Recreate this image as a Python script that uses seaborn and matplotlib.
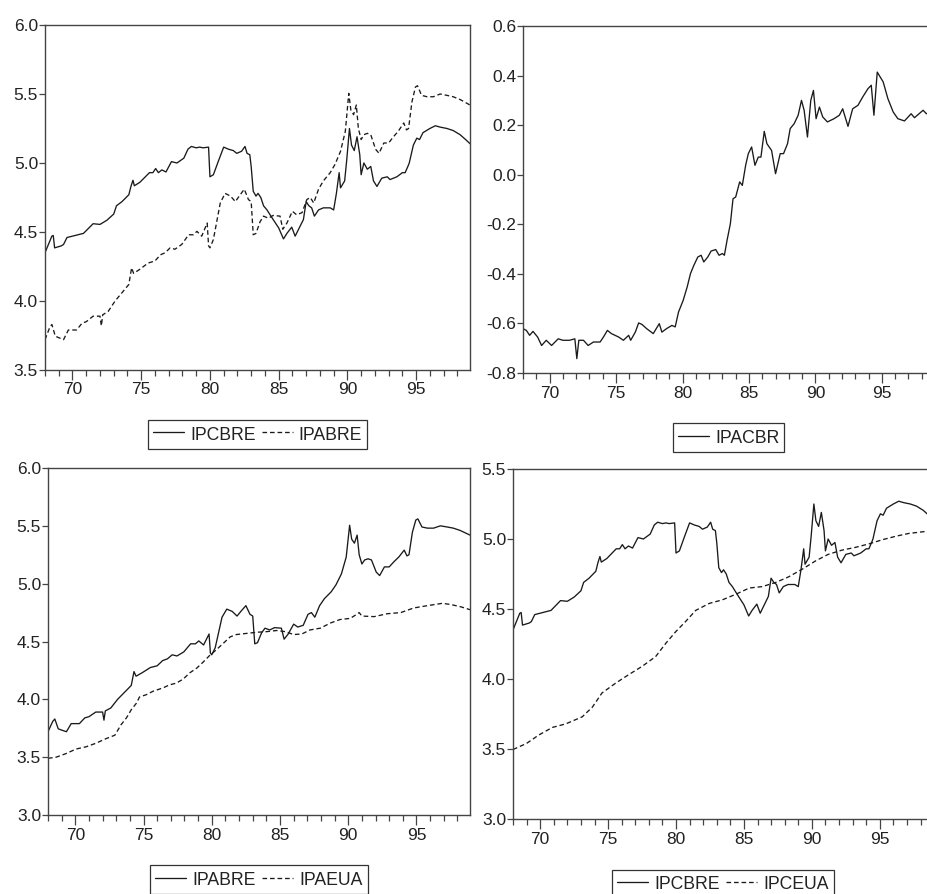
import matplotlib
matplotlib.use("Agg")
import matplotlib.pyplot as plt
import seaborn as sns
from matplotlib.ticker import FixedLocator, FormatStrFormatter

# ── DATA (2-digit years) ───
ipcbre_x = [68.0, 68.5, 68.6, 68.7, 69.2, 69.35, 69.6, 70.0, 70.8, 71.0, 71.3, 71.5, 72.0, 72.5,
            73.0, 73.2, 73.6, 74.1, 74.25, 74.4, 74.5, 74.9, 75.2, 75.6, 75.85, 76.05, 76.25, 76.5,
            76.8, 77.2, 77.6, 78.1, 78.4, 78.65, 79.0, 79.25, 79.5, 79.9, 80.0, 80.25, 80.6, 81.0,
            81.35, 81.7, 81.95, 82.3, 82.55, 82.7, 82.9, 83.0, 83.15, 83.35, 83.5, 83.7, 83.9, 84.15,
            84.6, 85.0, 85.35, 85.6, 85.95, 86.2, 86.55, 86.8, 87.0, 87.2, 87.4, 87.6, 87.9, 88.25,
            88.75, 89.0, 89.2, 89.4, 89.5, 89.8, 89.95, 90.15, 90.3, 90.5, 90.7, 90.9, 91.0, 91.2,
            91.45, 91.7, 91.9, 92.15, 92.5, 92.9, 93.1, 93.6, 94.0, 94.2, 94.4, 94.5, 94.8, 95.05,
            95.25, 95.5, 96.0, 96.4, 96.75, 97.25, 97.7, 98.2, 98.6, 98.92]
ipcbre_y = [4.35, 4.47, 4.475, 4.385, 4.40, 4.41, 4.46, 4.47, 4.49, 4.51, 4.54, 4.56, 4.555, 4.585,
            4.63, 4.69, 4.72, 4.77, 4.83, 4.875, 4.835, 4.86, 4.89, 4.93, 4.93, 4.96, 4.93, 4.95,
            4.935, 5.01, 5.00, 5.035, 5.10, 5.12, 5.11, 5.115, 5.11, 5.115, 4.90, 4.915, 5.01, 5.115,
            5.10, 5.09, 5.07, 5.085, 5.12, 5.07, 5.06, 4.975, 4.795, 4.76, 4.78, 4.75, 4.69, 4.66,
            4.59, 4.53, 4.45, 4.49, 4.535, 4.47, 4.54, 4.59, 4.72, 4.69, 4.675, 4.615, 4.66, 4.675,
            4.675, 4.66, 4.78, 4.93, 4.82, 4.87, 5.02, 5.25, 5.13, 5.09, 5.19, 5.06, 4.915, 5.00,
            4.955, 4.975, 4.87, 4.83, 4.89, 4.90, 4.88, 4.90, 4.93, 4.93, 4.975, 5.00, 5.13, 5.18,
            5.17, 5.22, 5.25, 5.27, 5.26, 5.25, 5.235, 5.205, 5.17, 5.14]

ipabre_x = [68.0, 68.35, 68.5, 68.75, 69.1, 69.35, 69.7, 70.3, 70.7, 71.0, 71.5, 72.0, 72.1, 72.2,
            72.6, 73.1, 73.6, 74.1, 74.3, 74.45, 74.9, 75.5, 76.0, 76.4, 76.75, 77.1, 77.45, 77.95,
            78.45, 78.8, 79.05, 79.4, 79.8, 79.9, 80.0, 80.25, 80.75, 81.1, 81.5, 81.85, 82.2, 82.5,
            82.8, 83.0, 83.15, 83.35, 83.65, 83.9, 84.25, 84.6, 85.1, 85.3, 85.6, 86.0, 86.3, 86.7,
            87.05, 87.3, 87.55, 87.9, 88.25, 88.75, 89.1, 89.5, 89.85, 90.1, 90.25, 90.45, 90.65,
            90.8, 91.0, 91.2, 91.45, 91.7, 92.05, 92.3, 92.65, 93.0, 93.35, 93.7, 94.1, 94.3, 94.45,
            94.7, 94.95, 95.1, 95.4, 95.8, 96.25, 96.75, 97.25, 97.7, 98.2, 98.92]
ipabre_y = [3.72, 3.81, 3.83, 3.745, 3.73, 3.72, 3.79, 3.79, 3.84, 3.85, 3.89, 3.89, 3.82, 3.90,
            3.925, 4.00, 4.06, 4.12, 4.24, 4.20, 4.23, 4.275, 4.29, 4.335, 4.35, 4.385, 4.375, 4.41,
            4.48, 4.48, 4.505, 4.47, 4.565, 4.40, 4.385, 4.445, 4.71, 4.78, 4.76, 4.72, 4.77, 4.81,
            4.735, 4.72, 4.48, 4.49, 4.575, 4.615, 4.60, 4.62, 4.615, 4.52, 4.565, 4.65, 4.625, 4.64,
            4.735, 4.75, 4.71, 4.81, 4.87, 4.93, 4.99, 5.085, 5.23, 5.505, 5.385, 5.35, 5.42,
            5.25, 5.17, 5.205, 5.215, 5.205, 5.10, 5.07, 5.145, 5.145, 5.19, 5.23, 5.29, 5.24, 5.25,
            5.445, 5.55, 5.56, 5.49, 5.48, 5.48, 5.50, 5.49, 5.48, 5.46, 5.42]

ipacbr_x = [68.0, 68.25, 68.5, 68.75, 69.1, 69.4, 69.75, 70.15, 70.65, 71.0, 71.5, 71.9, 72.05, 72.2,
            72.55, 72.9, 73.3, 73.8, 74.05, 74.35, 74.65, 75.2, 75.55, 75.95, 76.1, 76.45, 76.7,
            76.95, 77.3, 77.8, 78.25, 78.45, 78.8, 79.2, 79.45, 79.7, 80.05, 80.35, 80.6, 80.85,
            81.15, 81.4, 81.6, 81.9, 82.15, 82.5, 82.75, 83.0, 83.15, 83.35, 83.6, 83.8, 84.0, 84.3,
            84.5, 84.75, 84.95, 85.2, 85.45, 85.7, 85.9, 86.15, 86.35, 86.7, 87.0, 87.35, 87.6, 87.9,
            88.1, 88.4, 88.7, 88.95, 89.15, 89.4, 89.65, 89.85, 90.05, 90.3, 90.55, 90.9, 91.4, 91.8,
            92.05, 92.45, 92.8, 93.2, 93.55, 93.95, 94.2, 94.4, 94.65, 95.1, 95.45, 95.85, 96.2,
            96.7, 97.2, 97.45, 98.1, 98.35, 98.92]
ipacbr_y = [-0.621, -0.628, -0.648, -0.632, -0.655, -0.689, -0.668, -0.689, -0.662, -0.668, -0.668,
            -0.662, -0.742, -0.668, -0.668, -0.689, -0.675, -0.675, -0.655, -0.628, -0.641, -0.655,
            -0.668, -0.648, -0.668, -0.635, -0.598, -0.604, -0.621, -0.641, -0.601, -0.635, -0.621,
            -0.608, -0.614, -0.554, -0.507, -0.453, -0.399, -0.366, -0.332, -0.325, -0.352, -0.332,
            -0.308, -0.302, -0.325, -0.318, -0.325, -0.265, -0.198, -0.097, -0.090, -0.029, -0.043,
            0.038, 0.085, 0.112, 0.038, 0.071, 0.071, 0.175, 0.125, 0.098, 0.004, 0.085, 0.085,
            0.125, 0.186, 0.206, 0.240, 0.300, 0.260, 0.152, 0.300, 0.340, 0.226, 0.273, 0.233,
            0.213, 0.226, 0.240, 0.266, 0.195, 0.266, 0.280, 0.313, 0.347, 0.361, 0.240, 0.414,
            0.374, 0.307, 0.253, 0.226, 0.217, 0.246, 0.230, 0.260, 0.246, 0.256]

ipaeua_x = [68.0, 68.6, 69.3, 70.05, 70.8, 71.5, 72.25, 72.9, 73.35, 73.75, 74.1, 74.5, 74.7, 75.2,
            75.7, 76.45, 76.9, 77.4, 77.9, 78.4, 78.9, 79.35, 79.85, 80.35, 80.85, 81.35, 81.8,
            82.55, 83.3, 84.0, 84.75, 85.4, 86.0, 86.6, 87.2, 87.95, 88.7, 89.4, 90.15, 90.55, 90.8,
            91.0, 91.9, 92.85, 93.85, 94.8, 95.8, 96.9, 97.5, 98.25, 98.92]
ipaeua_y = [3.49, 3.50, 3.53, 3.57, 3.59, 3.62, 3.66, 3.69, 3.78, 3.84, 3.91, 3.97, 4.02, 4.04,
            4.07, 4.10, 4.125, 4.14, 4.175, 4.23, 4.27, 4.32, 4.38, 4.43, 4.485, 4.54, 4.56,
            4.57, 4.58, 4.585, 4.595, 4.585, 4.56, 4.565, 4.60, 4.615, 4.66, 4.69, 4.70, 4.73, 4.75,
            4.72, 4.715, 4.74, 4.75, 4.79, 4.81, 4.83, 4.82, 4.80, 4.775]

ipceua_x = [68.0, 69.0, 69.9, 70.9, 71.9, 73.1, 73.85, 74.55, 75.55, 76.5, 77.5, 78.5, 79.25, 80.0,
            80.7, 81.45, 82.45, 83.4, 84.4, 85.4, 86.35, 87.35, 88.3, 89.3, 90.3, 91.2, 92.2, 93.2,
            94.2, 95.2, 96.2, 97.15, 98.92]
ipceua_y = [3.496, 3.54, 3.60, 3.654, 3.68, 3.73, 3.80, 3.90, 3.97, 4.03, 4.09, 4.16, 4.255, 4.34,
            4.41, 4.49, 4.54, 4.565, 4.605, 4.65, 4.66, 4.69, 4.73, 4.785, 4.845, 4.89, 4.92, 4.94,
            4.965, 4.995, 5.02, 5.04, 5.06]

year_ticks = [70, 75, 80, 85, 90, 95]
year_labels = ["70", "75", "80", "85", "90", "95"]

# ── STYLE ───
sns.set_style("ticks")
plt.rcParams['font.family'] = ['Liberation Sans', 'DejaVu Sans']
plt.rcParams['axes.unicode_minus'] = False

LINE = '#1a1a1a'
SPINE = '#444444'
DASH = (0, (3.5, 2.2))
FS = 12.5

fig = plt.figure(figsize=(9.28, 8.94), dpi=100)
W, H = 928, 894


def make_ax(left, top, right, bottom):
    return fig.add_axes([left / W, (H - bottom) / H, (right - left) / W, (bottom - top) / H])


panels = [
    # axes box in pixels, y limits, y step, series
    (make_ax(45, 25, 470, 370), (3.5, 6.0), 0.5,
     [(ipcbre_x, ipcbre_y, 'IPCBRE', '-'), (ipabre_x, ipabre_y, 'IPABRE', DASH)]),
    (make_ax(523, 26, 934, 373), (-0.8, 0.6), 0.2,
     [(ipacbr_x, ipacbr_y, 'IPACBR', '-')]),
    (make_ax(48, 468, 470, 815), (3.0, 6.0), 0.5,
     [(ipabre_x, ipabre_y, 'IPABRE', '-'), (ipaeua_x, ipaeua_y, 'IPAEUA', DASH)]),
    (make_ax(513, 469, 933, 819), (3.0, 5.5), 0.5,
     [(ipcbre_x, ipcbre_y, 'IPCBRE', '-'), (ipceua_x, ipceua_y, 'IPCEUA', DASH)]),
]

for ax, ylim, ystep, series in panels:
    for xs, ys, name, ls in series:
        sns.lineplot(x=xs, y=ys, ax=ax, color=LINE, linewidth=0.95, linestyle=ls,
                     label=name, sort=False, estimator=None)

    ax.set_xlim(68.0, 98.92)
    ax.set_ylim(*ylim)
    n = int(round((ylim[1] - ylim[0]) / ystep))
    ax.yaxis.set_major_locator(FixedLocator([ylim[0] + i * ystep for i in range(n + 1)]))
    ax.yaxis.set_major_formatter(FormatStrFormatter('%.1f'))
    ax.set_xticks(year_ticks)
    ax.set_xticklabels(year_labels)
    ax.xaxis.set_minor_locator(FixedLocator(list(range(68, 99))))
    ax.tick_params(axis='both', which='major', direction='out', labelsize=FS,
                   colors=SPINE, labelcolor='#222222', width=0.9)
    ax.tick_params(axis='x', which='major', length=7, pad=2)
    ax.tick_params(axis='x', which='minor', length=4.5, width=0.9, colors=SPINE)
    ax.tick_params(axis='y', which='major', length=4, pad=1)
    for sp in ax.spines.values():
        sp.set_visible(True)
        sp.set_color(SPINE)
        sp.set_linewidth(1.0)
    ax.set_xlabel("")
    ax.set_ylabel("")

    leg = ax.legend(loc='upper center', bbox_to_anchor=(0.5, -0.145), ncol=2, frameon=True,
                    fancybox=False, edgecolor='#333333', framealpha=1, fontsize=12.7,
                    borderpad=0.3, handlelength=1.75, handleheight=1.05, handletextpad=0.35,
                    columnspacing=0.35, borderaxespad=0)
    leg.get_frame().set_linewidth(0.9)
    for t in leg.get_texts():
        t.set_color('#222222')

fig.savefig("out.png", dpi=100)
print("Saved: out.png")
